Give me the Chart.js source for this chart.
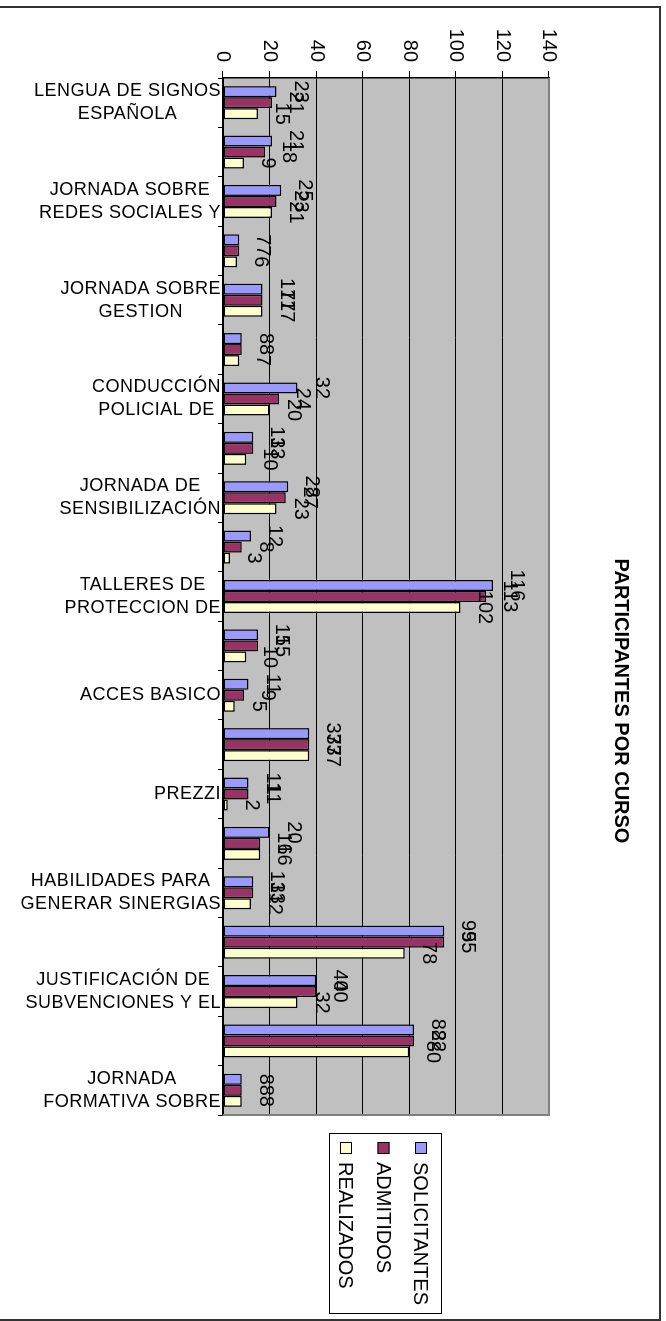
<!DOCTYPE html>
<html>
<head>
<meta charset="utf-8">
<title>Participantes por curso</title>
<script src="https://cdn.jsdelivr.net/npm/chart.js@4.4.0/dist/chart.umd.min.js"></script>
<style>
  html, body { margin: 0; padding: 0; background: #fff; overflow: hidden; }
  #wrap { position: relative; width: 666px; height: 1321px; overflow: hidden; }
  /* the chart is drawn as a normal column chart and turned a quarter clockwise */
  #chart { position: absolute; left: 0; top: 0; transform-origin: 0 0; transform: translate(666px, 0) rotate(90deg); }
</style>
</head>
<body>
<div id="wrap"><canvas id="chart" width="1321" height="666"></canvas></div>
<script>
const categories = [
    ['LENGUA DE SIGNOS', 'ESPAÑOLA'],
    [],
    ['JORNADA SOBRE', 'REDES SOCIALES Y'],
    [],
    ['JORNADA SOBRE', 'GESTION'],
    [],
    ['CONDUCCIÓN', 'POLICIAL DE'],
    [],
    ['JORNADA DE', 'SENSIBILIZACIÓN'],
    [],
    ['TALLERES DE', 'PROTECCION DE'],
    [],
    ['ACCES BASICO'],
    [],
    ['PREZZI'],
    [],
    ['HABILIDADES PARA', 'GENERAR SINERGIAS'],
    [],
    ['JUSTIFICACIÓN DE', 'SUBVENCIONES Y EL'],
    [],
    ['JORNADA', 'FORMATIVA SOBRE']
];
const solicitantes = [23, 21, 25, 7, 17, 8, 32, 13, 28, 12, 116, 15, 11, 37, 11, 20, 13, 95, 40, 82, 8];
const admitidos    = [21, 18, 23, 7, 17, 8, 24, 13, 27, 8, 113, 15, 9, 37, 11, 16, 13, 95, 40, 82, 8];
const realizados   = [15, 9, 21, 6, 17, 7, 20, 10, 23, 3, 102, 10, 5, 37, 2, 16, 12, 78, 32, 80, 8];
const valueTicks = [0, 20, 40, 60, 80, 100, 120, 140];
const chartTitle = 'PARTICIPANTES POR CURSO';

const FONT = '"Liberation Sans", Arial, sans-serif';
Chart.defaults.font.family = FONT;
Chart.defaults.color = '#000';

// background, plot area and outer frame
const framePlugin = {
    id: 'frame',
    beforeDraw(chart) {
        const {ctx, chartArea: a} = chart;
        ctx.save();
        ctx.fillStyle = '#fff';
        ctx.fillRect(0, 0, chart.width, chart.height);
        ctx.fillStyle = '#c0c0c0';
        ctx.fillRect(a.left, a.top, a.right - a.left, a.bottom - a.top);
        ctx.strokeStyle = '#333';
        ctx.lineWidth = 2;
        ctx.strokeRect(7, 6, 1313, 700);
        ctx.restore();
    },
    afterDatasetsDraw(chart) {
        const {ctx, chartArea: a} = chart;
        ctx.save();
        ctx.strokeStyle = '#808080';
        ctx.lineWidth = 2;
        ctx.beginPath();
        ctx.moveTo(a.left, a.top);
        ctx.lineTo(a.right, a.top);
        ctx.lineTo(a.right, a.bottom);
        ctx.stroke();
        ctx.restore();
    }
};

// value labels over each bar
const valueLabels = {
    id: 'valueLabels',
    afterDatasetsDraw(chart) {
        const {ctx} = chart;
        ctx.save();
        ctx.font = '20px ' + FONT;
        ctx.fillStyle = '#000';
        ctx.textAlign = 'center';
        ctx.textBaseline = 'alphabetic';
        chart.data.datasets.forEach((ds, di) => {
            chart.getDatasetMeta(di).data.forEach((bar, i) => {
                ctx.fillText(String(ds.data[i]), bar.x, bar.y - 18);
            });
        });
        ctx.restore();
    }
};

// category names, turned so they read across once the canvas is rotated
const categoryLabels = {
    id: 'categoryLabels',
    afterDraw(chart) {
        const {ctx, chartArea: a} = chart;
        const xs = chart.scales.x;
        ctx.save();
        ctx.font = '18px ' + FONT;
        ctx.letterSpacing = '0.5px';
        ctx.fillStyle = '#000';
        ctx.textAlign = 'center';
        ctx.textBaseline = 'middle';
        categories.forEach((lines, i) => {
            if (!lines.length) return;
            const u = xs.getPixelForValue(i);
            const w = Math.max(...lines.map(l => ctx.measureText(l).width));
            ctx.save();
            ctx.translate(u, a.bottom + 2);
            ctx.rotate(-Math.PI / 2);
            lines.forEach((l, k) => {
                ctx.fillText(l, -w / 2, (k - (lines.length - 1) / 2) * 23);
            });
            ctx.restore();
        });
        ctx.restore();
    }
};

// title and boxed legend
const titleLegend = {
    id: 'titleLegend',
    afterDraw(chart) {
        const {ctx, chartArea: a} = chart;
        ctx.save();
        ctx.fillStyle = '#000';
        ctx.font = 'bold 20px ' + FONT;
        ctx.textAlign = 'center';
        ctx.textBaseline = 'middle';
        ctx.fillText(chartTitle, 701, 45);

        const lx = a.right + 18, ly = 224;
        ctx.strokeStyle = '#000';
        ctx.lineWidth = 1;
        ctx.strokeRect(lx + 0.5, ly + 0.5, 180, 112);
        ctx.font = '20px ' + FONT;
        ctx.textAlign = 'left';
        chart.data.datasets.forEach((ds, i) => {
            const cy = ly + 21 + i * 37.5;
            ctx.fillStyle = ds.backgroundColor;
            ctx.fillRect(lx + 9, cy - 6, 12, 12);
            ctx.strokeRect(lx + 9.5, cy - 5.5, 11, 11);
            ctx.fillStyle = '#000';
            ctx.fillText(ds.label, lx + 29, cy + 1);
        });
        ctx.restore();
    }
};

const barStyle = {
    borderColor: '#000',
    borderWidth: 1.5,
    borderSkipped: false,
    barPercentage: 1.0,
    categoryPercentage: 0.67
};

new Chart(document.getElementById('chart'), {
    type: 'bar',
    data: {
        labels: categories.map(c => c.join(' ')),
        datasets: [
            {label: 'SOLICITANTES', data: solicitantes, backgroundColor: '#9999ff', ...barStyle},
            {label: 'ADMITIDOS', data: admitidos, backgroundColor: '#993366', ...barStyle},
            {label: 'REALIZADOS', data: realizados, backgroundColor: '#ffffcc', ...barStyle}
        ]
    },
    options: {
        responsive: false,
        animation: false,
        devicePixelRatio: 1,
        layout: {padding: {left: 0, top: 117, right: 206, bottom: 0}},
        plugins: {
            legend: {display: false},
            title: {display: false},
            tooltip: {enabled: false}
        },
        scales: {
            x: {
                offset: true,
                ticks: {display: false},
                grid: {offset: true, drawOnChartArea: false, drawTicks: true, tickLength: 5, color: '#000'},
                border: {color: '#000', width: 1.5},
                afterFit(scale) { scale.height = 223; }
            },
            y: {
                min: valueTicks[0],
                max: valueTicks[valueTicks.length - 1],
                afterBuildTicks(scale) { scale.ticks = valueTicks.map(v => ({value: v})); },
                ticks: {padding: 9, font: {size: 20}, color: '#000'},
                grid: {color: '#000', lineWidth: 1, tickLength: 7},
                border: {color: '#000', width: 1.5},
                afterFit(scale) { scale.width = 78; }
            }
        }
    },
    plugins: [framePlugin, valueLabels, categoryLabels, titleLegend]
});
</script>
</body>
</html>
